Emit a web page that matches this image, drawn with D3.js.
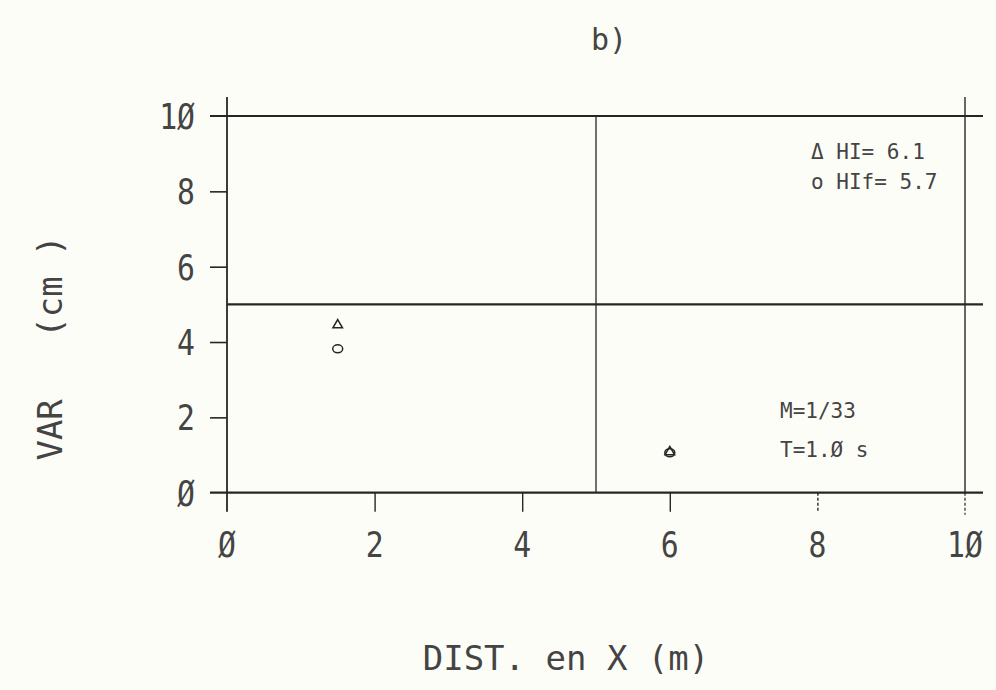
<!DOCTYPE html>
<html><head><meta charset="utf-8">
<script src="https://cdn.jsdelivr.net/npm/d3@7"></script>
<style>
html,body{margin:0;padding:0;background:#fdfdf8;}
svg{display:block;}
text{font-family:"DejaVu Sans Mono",monospace;fill:#444;white-space:pre;}
</style></head>
<body>
<script>
// ---- data ----
const xTickValues = [0, 2, 4, 6, 8, 10];
const xTickLabels = ["Ø", "2", "4", "6", "8", "1Ø"];
const yTickValues = [0, 2, 4, 6, 8, 10];
const yTickLabels = ["Ø", "2", "4", "6", "8", "1Ø"];
const refLinesX = [5];
const refLinesY = [5];
const triX = [1.5, 6.0];
const triY = [4.45, 1.08];
const circX = [1.5, 6.0];
const circY = [3.82, 1.06];
const legendLabels = ["Δ HI= 6.1", "o HIf= 5.7"];
const noteLabels = ["M=1/33", "T=1.Ø s"];
const titleText = "b)";
const xTitle = "DIST. en X (m)";
const yTitle = "VAR   (cm )";

const W = 996, H = 690;
const svg = d3.select("body").append("svg").attr("width", W).attr("height", H);
svg.append("rect").attr("width", W).attr("height", H).attr("fill", "#fdfdf8");

const x = d3.scaleLinear().domain([0, 10]).range([227, 965]);
const y = d3.scaleLinear().domain([0, 10]).range([492.7, 116]);
const ink = "#262626";

// frame lines
const g = svg.append("g").attr("stroke", ink).attr("fill", "none");
g.append("line").attr("x1", x(0)).attr("x2", x(0)).attr("y1", 97).attr("y2", y(0) + 19).attr("stroke-width", 1.8);
g.append("line").attr("x1", x(10)).attr("x2", x(10)).attr("y1", 97).attr("y2", y(0)).attr("stroke-width", 1.4);
g.append("line").attr("x1", x(10)).attr("x2", x(10)).attr("y1", y(0)).attr("y2", y(0) + 22).attr("stroke-width", 1.2).attr("stroke-dasharray", "3,2");
[0, 10].forEach(v => {
  g.append("line").attr("x1", x(0) - 17).attr("x2", 983).attr("y1", y(v)).attr("y2", y(v)).attr("stroke-width", 2.2);
});
refLinesY.forEach(v => {
  g.append("line").attr("x1", x(0)).attr("x2", 983).attr("y1", y(v)).attr("y2", y(v)).attr("stroke-width", 2.2);
});
refLinesX.forEach(v => {
  g.append("line").attr("x1", x(v)).attr("x2", x(v)).attr("y1", y(10)).attr("y2", y(0)).attr("stroke-width", 1.3);
});

// axes with d3
const xAxis = d3.axisBottom(x).tickValues(xTickValues.filter(v => v > 0 && v < 10)).tickSize(19).tickFormat("");
const xg = svg.append("g").attr("transform", `translate(0,${y(0)})`).call(xAxis);
xg.select(".domain").remove();
xg.selectAll(".tick line").attr("stroke", ink).attr("stroke-width", 1.4);
xg.selectAll(".tick").filter(d => d === 8).select("line").attr("stroke-dasharray", "3,2");

const yAxis = d3.axisLeft(y).tickValues(yTickValues.filter(v => v > 0 && v < 10)).tickSize(17).tickFormat("");
const yg = svg.append("g").attr("transform", `translate(${x(0)},0)`).call(yAxis);
yg.select(".domain").remove();
yg.selectAll(".tick line").attr("stroke", ink).attr("stroke-width", 1.6);

// tick labels
svg.append("g").selectAll("text").data(xTickValues).join("text")
  .attr("x", d => x(d)).attr("y", 557).attr("text-anchor", "middle")
  .attr("font-size", 35).attr("transform-origin", d => `${x(d)} 557`)
  .style("transform", "scaleX(0.85)")
  .text((d, i) => xTickLabels[i]);
svg.append("g").selectAll("text").data(yTickValues).join("text")
  .attr("x", 195).attr("y", d => y(d) + 13).attr("text-anchor", "end")
  .attr("font-size", 35).attr("transform-origin", d => `195 ${y(d)}`)
  .style("transform", "scaleX(0.85)")
  .text((d, i) => yTickLabels[i]);

// markers
const tri = d3.symbol().type(d3.symbolTriangle).size(40);
svg.append("g").selectAll("path").data(triX).join("path")
  .attr("d", tri).attr("transform", (d, i) => `translate(${x(d)},${y(triY[i])})`)
  .attr("fill", "none").attr("stroke", ink).attr("stroke-width", 1.5);
svg.append("g").selectAll("ellipse").data(circX).join("ellipse")
  .attr("cx", d => x(d)).attr("cy", (d, i) => y(circY[i]))
  .attr("rx", 5).attr("ry", 4)
  .attr("fill", "none").attr("stroke", ink).attr("stroke-width", 1.5);

// legend and notes
svg.append("g").selectAll("text").data(legendLabels).join("text")
  .attr("x", 811).attr("y", (d, i) => 159 + i * 30).attr("font-size", 21)
  .text(d => d);
svg.append("g").selectAll("text").data(noteLabels).join("text")
  .attr("x", 780).attr("y", (d, i) => 418 + i * 39).attr("font-size", 21)
  .text(d => d);

// titles
svg.append("text").attr("x", 609).attr("y", 50).attr("text-anchor", "middle").attr("font-size", 30).text(titleText);
svg.append("text").attr("x", 566).attr("y", 670).attr("text-anchor", "middle").attr("font-size", 34).text(xTitle);
svg.append("text").attr("transform", "translate(62,348) rotate(-90)").attr("text-anchor", "middle").attr("font-size", 34).text(yTitle);
</script>
</body></html>
